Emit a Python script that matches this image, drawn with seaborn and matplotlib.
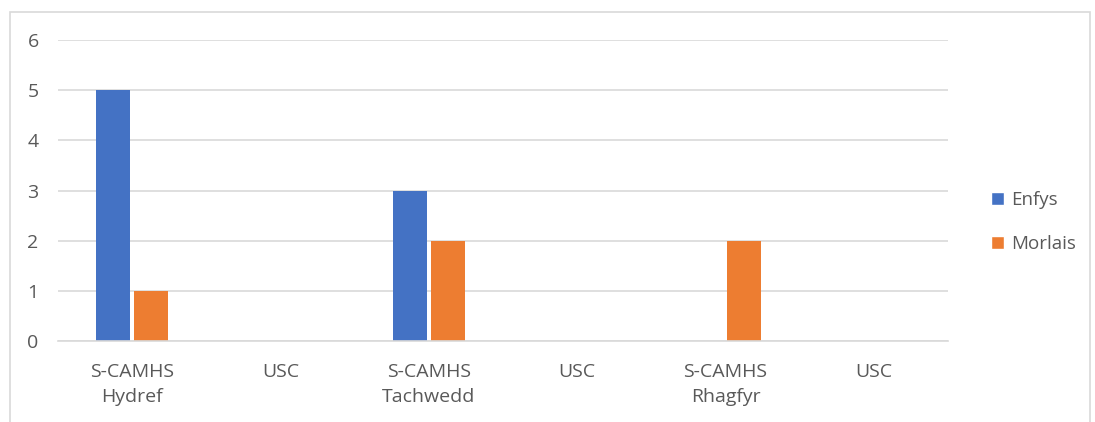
import seaborn as sns
import numpy as np
import pandas as pd
import matplotlib.pyplot as plt
from matplotlib.patches import Rectangle, Patch

# data
tick_labels = ["S-CAMHS\nHydref", "USC", "S-CAMHS\nTachwedd", "USC", "S-CAMHS\nRhagfyr", "USC"]
enfys = [5, 0, 3, 0, 0, 0]
morlais = [1, 0, 2, 0, 2, 0]
series = ["Enfys", "Morlais"]
colors = ["#4472C4", "#ED7D31"]

slots = list(range(len(tick_labels)))
df = pd.DataFrame({
    "slot": slots * 2,
    "value": enfys + morlais,
    "series": ["Enfys"] * len(slots) + ["Morlais"] * len(slots),
})

sns.set_style("white")
plt.rcParams['font.family'] = ['Open Sans', 'DejaVu Sans']
txt = "#595959"

fig = plt.figure(figsize=(10.95, 4.22), dpi=100)
ax = fig.add_axes([58/1095, 1 - 341/422, 890/1095, 301/422])

sns.barplot(data=df, x="slot", y="value", hue="series", palette=colors,
            width=0.512, gap=0.105, saturation=1, linewidth=0, ax=ax, legend=False)

ax.set_ylim(0, 6)
ax.set_xlim(-0.5, len(slots) - 0.5)
ax.set_yticks(range(0, 7))
ax.yaxis.grid(True, color="#D9D9D9", linewidth=1.2)
ax.set_axisbelow(True)
ax.set_xticks(slots)
ax.set_xticklabels(tick_labels, linespacing=1.45)
ax.tick_params(axis="both", length=0, labelsize=14, colors=txt)
ax.tick_params(axis="x", pad=16)
ax.tick_params(axis="y", pad=22)
for lab in ax.get_yticklabels():
    lab.set_horizontalalignment("left")
ax.set_xlabel("")
ax.set_ylabel("")
for s in ["top", "right", "left"]:
    ax.spines[s].set_visible(False)
ax.spines["bottom"].set_color("#D9D9D9")
ax.spines["bottom"].set_linewidth(1.2)

handles = [Patch(facecolor=c, label=s) for s, c in zip(series, colors)]
leg = fig.legend(handles=handles, loc="center left", bbox_to_anchor=(974/1095, 1 - 222/422),
                 frameon=False, fontsize=13.5, handlelength=0.7, handleheight=0.7,
                 handletextpad=0.4, labelspacing=1.4)
for t in leg.get_texts():
    t.set_color(txt)

# chart frame
fig.patches.append(Rectangle((10/1095, -0.1), 1080/1095, 1.1 - 12/422, transform=fig.transFigure,
                             fill=False, edgecolor="#D9D9D9", linewidth=1.2))

fig.savefig("out.png", dpi=100)
